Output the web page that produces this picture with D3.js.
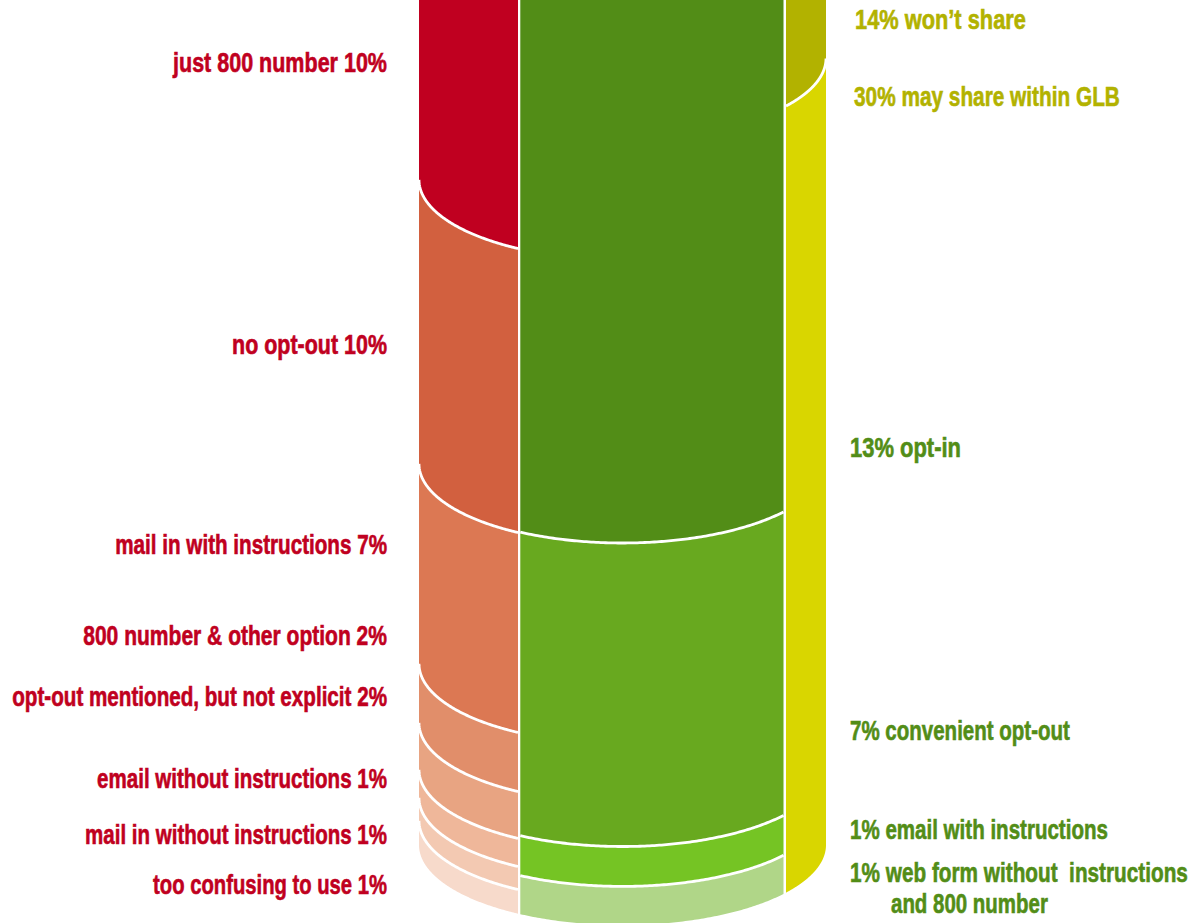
<!DOCTYPE html>
<html>
<head>
<meta charset="utf-8">
<script src="https://cdn.jsdelivr.net/npm/d3@7"></script>
<style>
  html, body { margin: 0; padding: 0; background: #fff; overflow: hidden; }
  text { font-family: "Liberation Sans Narrow", "Liberation Sans", sans-serif; font-weight: 700; }
</style>
</head>
<body>
<svg id="chart" width="1193" height="923"></svg>
<script>
// Privacy-notice survey shares, listed from the top of each column down.
const leftNames = ["just 800 number", "no opt-out", "mail in with instructions", "800 number & other option",
  "opt-out mentioned, but not explicit", "email without instructions", "mail in without instructions", "too confusing to use"];
const leftValues = [10, 10, 7.04, 2.08, 1.65, 0.99, 0.81, 0.85];
const leftColors = ["#c00020", "#d2603f", "#dc7853", "#e18e6a", "#e8a482", "#efb79a", "#f3c9b2", "#f7dacb"];

const centerNames = ["opt-in", "convenient opt-out", "email with instructions", "web form without  instructions"];
const centerValues = [13, 7, 0.92, 0.89];
const centerColors = ["#528d17", "#68a91f", "#75c424", "#b0d688"];
const centerSecondLine = ["", "", "", "and 800 number"];

const rightNames = ["won\u2019t share", "may share within GLB"];
const rightValues = [14, 30];
const rightColors = ["#b2b200", "#d9d600"];

// Label placement, same order as the value lists above.
const leftLabelY = [72, 354, 554, 645, 706, 788, 844, 894];
const leftLabelW = [214, 155, 272, 304, 375, 290, 302, 234];
const centerLabelY = [457, 740, 839, 882];
const centerLabelW = [111, 220, 258, 338];
const rightLabelY = [29, 106];
const rightLabelX = [855, 854];
const rightLabelW = [171, 266];

const cylinder = { cx: 622.5, rx: 203.5, ry: 80, base: 845 };
const pct = d3.format(".0f");

const svg = d3.select("#chart");

// Angle on the ellipse for a horizontal position: 0 is the right edge, PI the left.
const angleAt = x => Math.acos(Math.max(-1, Math.min(1, (x - cylinder.cx) / cylinder.rx)));

function drawColumn(values, colors, x0, x1, pxPerPercent) {
  const rim = d3.scaleLinear().domain([0, 1]).range([cylinder.base, cylinder.base - pxPerPercent]);
  const angles = d3.range(0, 121).map(i => d3.interpolate(angleAt(x1), angleAt(x0))(i / 120));
  const px = a => cylinder.cx + cylinder.rx * Math.cos(a);
  const py = (level, a) => rim(level) + cylinder.ry * Math.sin(a);

  // Stack from the base upward, so the last listed value sits on the bottom.
  let level = 0;
  const segments = values.map((v, i) => ({ v, color: colors[i] })).reverse().map(s => {
    const seg = { ...s, from: level, to: level + s.v };
    level = seg.to;
    return seg;
  });

  const area = d3.area().x(px);
  const g = svg.append("g");
  g.selectAll("path.fill").data(segments).join("path")
    .attr("class", "fill")
    .attr("fill", d => d.color)
    .attr("d", d => area.y0(a => py(d.from, a)).y1(a => py(d.to, a))(angles));

  // White seam along the upper rim of every segment below the top one.
  const seam = d3.line().x(px);
  g.selectAll("path.seam").data(segments.slice(0, -1)).join("path")
    .attr("class", "seam")
    .attr("fill", "none")
    .attr("stroke", "#fff")
    .attr("stroke-width", 2.8)
    .attr("d", d => seam.y(a => py(d.to, a))(angles));
}

drawColumn(leftValues, leftColors, 419, 518, 28.4);
drawColumn(centerValues, centerColors, 520.3, 783.5, 43.36);
drawColumn(rightValues, rightColors, 786, 826, 26.22);

// Tall condensed lettering: squeeze each label horizontally to its set width.
function label(text, x, y, w, anchor, color) {
  const t = svg.append("text")
    .attr("text-anchor", anchor)
    .attr("fill", color)
    .attr("stroke", color)
    .attr("stroke-width", 0.6)
    .attr("font-size", 27)
    .attr("xml:space", "preserve")
    .style("white-space", "pre")
    .text(text);
  const sx = w / t.node().getComputedTextLength();
  t.attr("transform", `translate(${x},${y}) scale(${sx},1)`);
}

leftNames.forEach((n, i) =>
  label(`${n} ${pct(leftValues[i])}%`, 387, leftLabelY[i], leftLabelW[i], "end", "#c00020"));
centerNames.forEach((n, i) => {
  label(`${pct(centerValues[i])}% ${n}`, 850, centerLabelY[i], centerLabelW[i], "start", "#528d17");
  if (centerSecondLine[i]) label(centerSecondLine[i], 891, centerLabelY[i] + 31, 157, "start", "#528d17");
});
rightNames.forEach((n, i) =>
  label(`${pct(rightValues[i])}% ${n}`, rightLabelX[i], rightLabelY[i], rightLabelW[i], "start", "#b2b200"));
</script>
</body>
</html>
